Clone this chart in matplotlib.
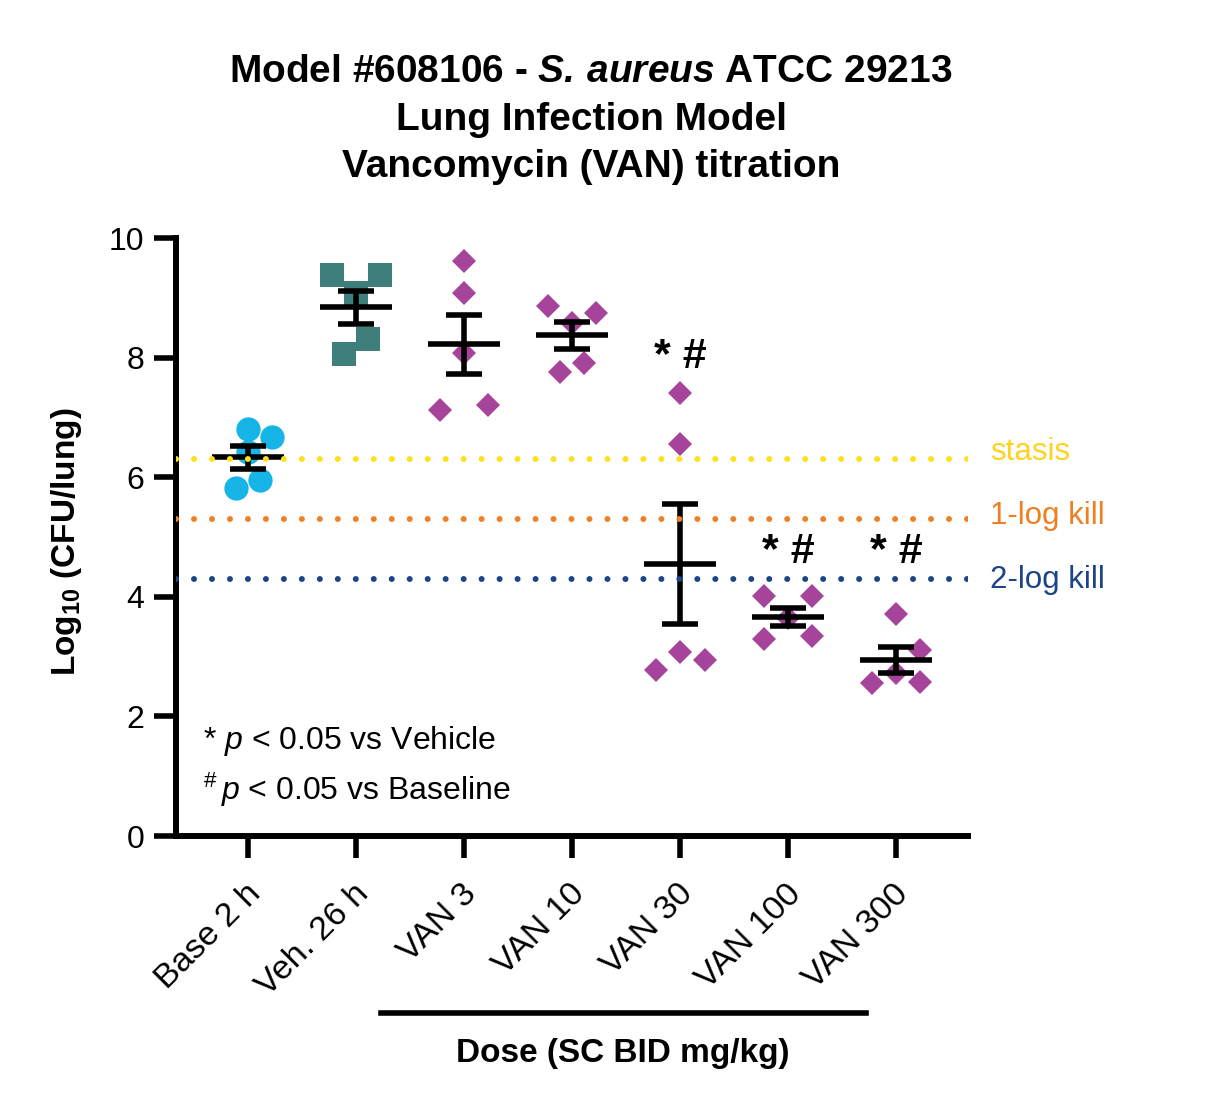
import numpy as np
import matplotlib.pyplot as plt
from matplotlib.lines import Line2D
from matplotlib.transforms import ScaledTranslation, blended_transform_factory

plt.rcParams['font.family'] = ['Liberation Sans', 'DejaVu Sans']
plt.rcParams['mathtext.fontset'] = 'custom'
plt.rcParams['mathtext.rm'] = 'Liberation Sans'
plt.rcParams['mathtext.it'] = 'Liberation Sans:italic'
plt.rcParams['mathtext.bf'] = 'Liberation Sans:bold'
plt.rcParams['mathtext.bfit'] = 'Liberation Sans:bold:italic'

# data (log10 CFU/lung, n=5 per group)
groups = ['Base 2 h', 'Veh. 26 h', 'VAN 3', 'VAN 10', 'VAN 30', 'VAN 100', 'VAN 300']
base_2h = [6.81, 6.67, 6.42, 5.95, 5.82]
veh_26h = [9.38, 9.38, 9.08, 8.31, 8.06]
van_3 = [9.62, 9.08, 8.08, 7.12, 7.21]
van_10 = [8.86, 8.74, 8.58, 7.91, 7.76]
van_30 = [7.41, 6.56, 3.07, 2.78, 2.95]
van_100 = [4.01, 4.01, 3.65, 3.30, 3.34]
van_300 = [3.72, 3.11, 2.73, 2.56, 2.58]
values = [base_2h, veh_26h, van_3, van_10, van_30, van_100, van_300]

# reference levels
ref_levels = [6.3, 5.3, 4.3]
ref_names = ['stasis', '1-log kill', '2-log kill']

# significance marks
sig_groups = ['VAN 30', 'VAN 100', 'VAN 300']
sig_text = ['* #', '* #', '* #']

# layout / style (not data)
spread = [
    [0, 0.22, 0, 0.11, -0.11],
    [-0.22, 0.22, 0, 0.11, -0.11],
    [0, 0, 0, -0.22, 0.22],
    [-0.22, 0.22, 0, 0.11, -0.11],
    [0, 0, 0, -0.22, 0.23],
    [-0.22, 0.22, 0, -0.22, 0.22],
    [0, 0.22, 0, -0.22, 0.22],
]
markers = ['o', 's', 'D', 'D', 'D', 'D', 'D']
msizes = [17.5, 17.6, 12, 12, 12, 12, 12]
colors = ['#17B4E7', '#3F7F7B', '#A6439B', '#A6439B', '#A6439B', '#A6439B', '#A6439B']
ref_colors = ['#FFE01B', '#F08024', '#1B4586']
ref_text_colors = ['#FFD21F', '#F07F22', '#1B4586']
ref_text_y = [6.29, 5.22, 4.15]
sig_y = [7.83, 4.57, 4.57]

fig = plt.figure(figsize=(12.07, 11.13), dpi=100)
ax = fig.add_axes([176 / 1207, 1 - 836 / 1113, 792 / 1207, 598 / 1113])

lw = 4.0
for i, vals in enumerate(values):
    xs = i + np.array(spread[i])
    ax.plot(xs, vals, linestyle='none', marker=markers[i], ms=msizes[i],
            color=colors[i], mew=0, zorder=2, clip_on=False)
    m = np.mean(vals)
    sem = np.std(vals, ddof=1) / np.sqrt(len(vals))
    ax.hlines(m, i - 0.333, i + 0.333, color='black', lw=lw, zorder=3)
    ax.errorbar(i, m, yerr=sem, fmt='none', ecolor='black', elinewidth=lw,
                capsize=13, capthick=lw, zorder=3)

for lvl, name, c, tc, ty in zip(ref_levels, ref_names, ref_colors, ref_text_colors, ref_text_y):
    ax.axhline(lvl, color=c, lw=4.3, linestyle=(0, (0.01, 3.0)),
               dash_capstyle='round', zorder=4)
    ax.text(6.87, ty, name, color=tc, fontsize=22.5, ha='left', va='baseline',
            clip_on=False)

for g, t, yy in zip(sig_groups, sig_text, sig_y):
    ax.text(groups.index(g), yy, t, fontsize=31, fontweight='bold',
            ha='center', va='baseline')

ax.set_xlim(-0.667, 6.667)
ax.set_ylim(0, 10)
ax.set_yticks([0, 2, 4, 6, 8, 10])
ax.set_xticks(range(len(groups)))
ax.set_xticklabels(groups, rotation=45, ha='right', va='center',
                   rotation_mode='anchor')
for spine in ['top', 'right']:
    ax.spines[spine].set_visible(False)
for spine in ['left', 'bottom']:
    ax.spines[spine].set_linewidth(4.3)
    ax.spines[spine].set_capstyle('projecting')
ax.tick_params(axis='both', direction='out', length=16, width=4.0, color='black')
ax.tick_params(axis='y', pad=7, labelsize=23)
ax.tick_params(axis='x', pad=0, labelsize=24.5)
for lab in ax.get_xticklabels():
    lab.set_transform(lab.get_transform() + ScaledTranslation(0.08, -0.31, fig.dpi_scale_trans))

# legend-like note
ax.text(0.034, 0.159, '* $\\mathit{p}$ < 0.05 vs Vehicle', transform=ax.transAxes,
        fontsize=23, ha='left', va='center')
ax.text(0.034, 0.077, '$^{\\#}\\,\\mathit{p}$ < 0.05 vs Baseline', transform=ax.transAxes,
        fontsize=23, ha='left', va='center')

# y label
fig.text(66 / 1207, 1 - 542 / 1113, 'Log$_{\\mathregular{10}}$ (CFU/lung)',
         rotation=90, fontsize=24, fontweight='bold', ha='center', va='center')

# dose bracket and label
trans = blended_transform_factory(ax.transData, fig.transFigure)
fig.add_artist(Line2D([1.23, 5.72], [1 - 1013 / 1113] * 2, transform=trans,
                      color='black', lw=4.0))
fig.text(623 / 1207, 1 - 1062 / 1113, 'Dose (SC BID mg/kg)', fontsize=24,
         fontweight='bold', ha='center', va='baseline')

# title
title_lines = ['Model #608106 - $\\mathbfit{S.}\\,\\mathbfit{aureus}$ ATCC 29213',
               'Lung Infection Model',
               'Vancomycin (VAN) titration']
for line, yb in zip(title_lines, [82, 130, 177]):
    fig.text(591 / 1207, 1 - yb / 1113, line, fontsize=28, fontweight='bold',
             ha='center', va='baseline')

fig.savefig('out.png', dpi=100)
